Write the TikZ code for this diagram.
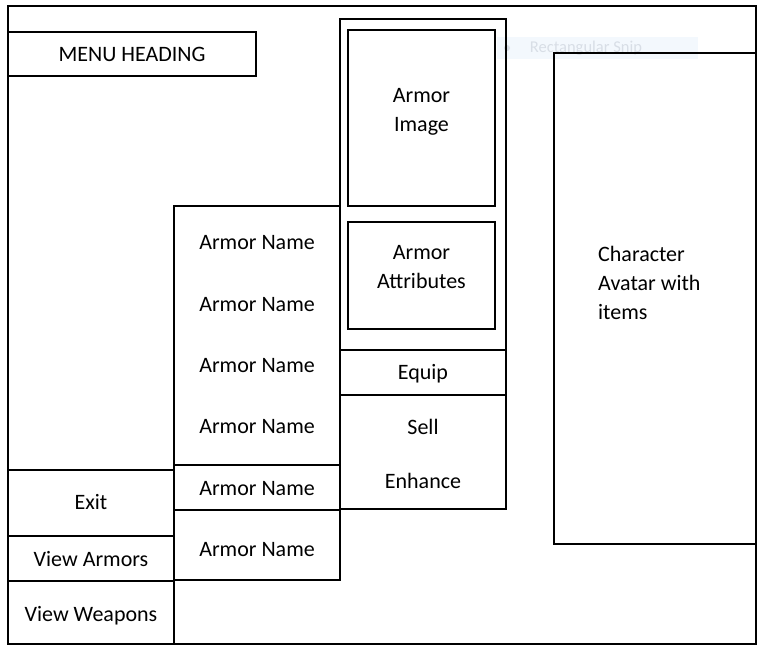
\documentclass[tikz,border=0pt]{standalone}
\usepackage{fontspec}
\setmainfont{Carlito}
\usepackage{xcolor}
\usetikzlibrary{positioning}
\definecolor{snipFill}{HTML}{F3F8FD}
\definecolor{snipInk} {HTML}{D8DEE6}

\begin{document}
\begin{tikzpicture}[
    x=1pt, y=-1pt,
    box/.style={draw, line width=1.6pt, inner sep=0pt},
    txt/.style={font=\fontsize{22}{29}\selectfont, align=center, inner sep=0pt},
    lbl/.style={txt, yshift=-1.5pt},
  ]
    \useasboundingbox (0,0) rectangle (763,652);
    \node[box, minimum width=748pt, minimum height=638pt] (frame) at (382,325) {};

    % top left heading and faint snip tooltip
    \node[box, minimum width=248pt, minimum height=44pt, txt] (menu) at (132,54) {MENU HEADING};
    \node[fill=snipFill, minimum width=201pt, minimum height=22pt, inner sep=0pt] (snip) at (597.5,48) {};
    \node[font=\fontsize{16.5}{18}\selectfont, text=snipInk, inner sep=0pt] (sniptxt) at (586,48) {Rectangular Snip};
    \fill[snipInk] (507,48) circle (3);

    % armor details
    \node[box, minimum width=166pt, minimum height=331pt] (detail) at (423,184.5) {};
    \node[box, minimum width=147pt, minimum height=176pt] (img) at (421.5,118) {};
    \node[lbl] (imgtxt) at (421.5,110.5) {Armor\\Image};
    \node[box, minimum width=147pt, minimum height=107pt] (attr) at (421.5,275.5) {};
    \node[lbl] (attrtxt) at (421.5,265.5) {Armor\\Attributes};
    \node[box, minimum width=166pt, minimum height=45pt] (equip) at (423,372.5) {};
    \node[lbl] (equiptxt) at (423,372) {Equip};
    \node[box, minimum width=166pt, minimum height=114pt] (acts) at (423,452) {};
    \node[lbl] (sell) at (423,425) {Sell};
    \node[lbl] (enh) at (423,479) {Enhance};

    % armor list
    \node[box, minimum width=166pt, minimum height=259pt] (list) at (257,335.5) {};
    \foreach \y [count=\i] in {241,303,364,425}
      \node[lbl] (name\i) at (257,\y) {Armor Name};
    \node[box, minimum width=166pt, minimum height=45pt] (item5) at (257,487.5) {};
    \node[lbl] (name5) at (257,487) {Armor Name};
    \node[box, minimum width=166pt, minimum height=70pt] (item6) at (257,545) {};
    \node[lbl] (name6) at (257,548) {Armor Name};

    % left menu
    \node[box, minimum width=166pt, minimum height=66pt] (exit) at (91,503) {};
    \node[lbl] (exittxt) at (91,501) {Exit};
    \node[box, minimum width=166pt, minimum height=45pt] (armors) at (91,558.5) {};
    \node[lbl] (armtxt) at (91,558) {View Armors};
    \node[box, minimum width=166pt, minimum height=63pt] (weapons) at (91,612.5) {};
    \node[lbl] (weaptxt) at (91,614) {View Weapons};

    % character
    \node[box, minimum width=202pt, minimum height=491pt] (char) at (655,298.5) {};
    \node[lbl, align=left, anchor=west] (chartxt) at (598,281) {Character\\Avatar with\\items};
\end{tikzpicture}
\end{document}
